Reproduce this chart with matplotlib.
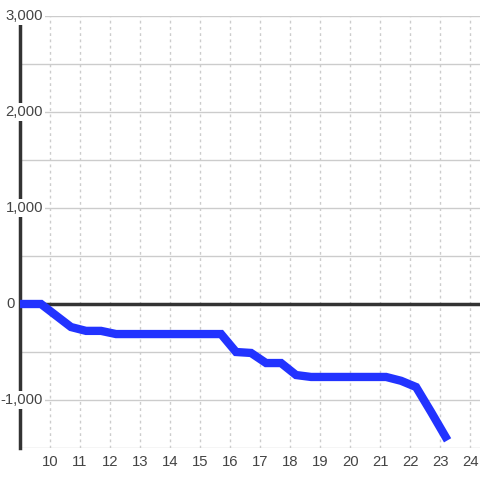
import matplotlib.pyplot as plt
import matplotlib.transforms as mtransforms

plt.rcParams["font.family"] = ["Liberation Sans", "DejaVu Sans"]

# hour of day vs cumulative value
hours = [9.0, 9.7, 10.2, 10.7, 11.2, 11.7, 12.2, 15.7, 16.2, 16.7, 17.2, 17.7,
         18.2, 18.7, 21.2, 21.7, 22.2, 22.7, 23.25]
values = [0, 0, -120, -240, -280, -280, -313, -313, -500, -510, -615, -615,
          -740, -760, -760, -800, -865, -1125, -1420]

x_ticks = list(range(10, 25))
y_ticks = [3000, 2000, 1000, 0, -1000]
y_labels = ["3,000", "2,000", "1,000", "0", "-1,000"]

fig = plt.figure(figsize=(4.8, 4.8), dpi=100)
ax = fig.add_axes([20 / 480, 32 / 480, 460 / 480, 432 / 480])
ax.set_xlim(9.0, 24.33)
ax.set_ylim(-1500, 3000)

for s in ["top", "right", "bottom"]:
    ax.spines[s].set_visible(False)
ax.spines["left"].set_linewidth(2.5)
ax.spines["left"].set_color("#333333")
ax.spines["left"].set_zorder(2.5)

# grid
for yv in range(-1500, 3001, 500):
    if yv == 0:
        continue
    ax.axhline(yv, color="#cccccc", lw=1, zorder=1)
for xv in x_ticks:
    ax.axvline(xv, color="#cccccc", lw=1, ls=(0, (2, 2.5)), zorder=1)
ax.axhline(0, color="#333333", lw=2.5, zorder=2)

ax.plot(hours, values, color="#2233ff", lw=6, solid_joinstyle="miter",
        solid_capstyle="butt", zorder=6)

ax.set_yticks([])
ax.set_xticks(x_ticks)
ax.set_xticklabels([str(v) for v in x_ticks])
ax.tick_params(axis="x", length=0, pad=5, labelsize=10.7, labelcolor="#444444")

trans = mtransforms.blended_transform_factory(ax.transAxes, ax.transData)
for yv, lab in zip(y_ticks, y_labels):
    # the zero label sits left of the axis line
    xr = -5 / 460 if yv == 0 else 23 / 460
    ax.text(xr, yv, lab, transform=trans, ha="right", va="center",
            fontsize=10.7, color="#444444", zorder=5, clip_on=False,
            bbox=dict(facecolor="white", edgecolor="none", pad=1.5))

fig.savefig("out.png", dpi=100)
